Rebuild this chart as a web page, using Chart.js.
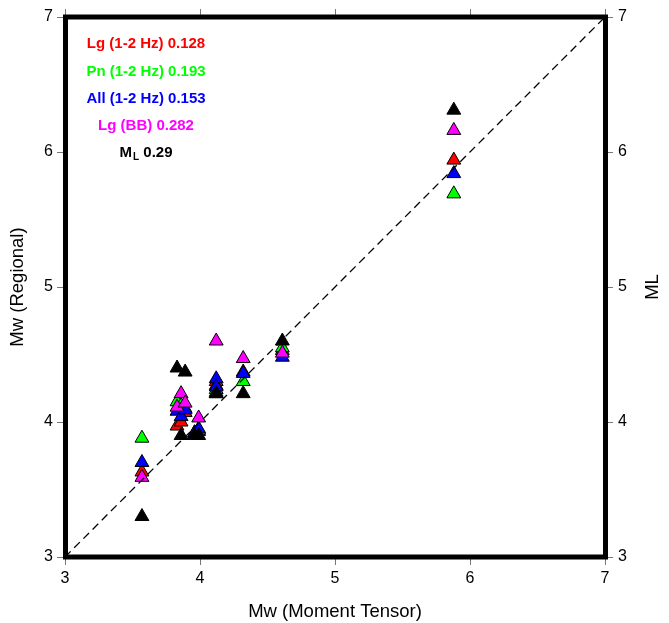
<!DOCTYPE html>
<html><head><meta charset="utf-8">
<script src="https://cdn.jsdelivr.net/npm/chart.js@4/dist/chart.umd.min.js"></script>
<style>html,body{margin:0;padding:0;background:#fff}#wrap{width:669px;height:623px;position:relative}</style>
</head><body><div id="wrap"><canvas id="c"></canvas></div>
<script>
// Moment tensor Mw (x) for each event
const mtMw  = [3.57, 3.83, 3.86, 3.89, 3.96, 3.99, 4.12, 4.12, 4.32, 4.61, 5.88];
// Regional Mw estimates
const lg12  = [3.63, 3.97, 4.00, 4.07, 3.91, 3.93, 4.30, 4.27, 4.37, 4.53, 5.94];
const pn12  = [3.88, 4.15, 4.12, 4.10, 3.92, 3.94, 4.24, 4.22, 4.30, 4.55, 5.69];
const all12 = [3.70, 4.08, 4.04, 4.09, 3.92, 3.95, 4.32, 4.26, 4.36, 4.48, 5.84];
const lgBB  = [3.59, 4.11, 4.21, 4.14, null, 4.03, 4.60, null, 4.47, 4.51, 6.16];
const mlVal = [3.30, 4.40, 3.90, 4.37, 3.90, 3.90, 4.21, 4.21, 4.21, 4.60, 6.31];
const axisTicks = [3, 4, 5, 6, 7];
const oneToOne = [3, 7];
const legendLabels = ['Lg (1-2 Hz) 0.128', 'Pn (1-2 Hz) 0.193', 'All (1-2 Hz) 0.153', 'Lg (BB) 0.282'];
const mlLegend = ['M', 'L', ' 0.29'];
const xTitle = 'Mw (Moment Tensor)';
const yTitle = 'Mw (Regional)';
const y2Title = 'ML';

const FF = '"Liberation Sans", Arial, Helvetica, sans-serif';
const colors = ['#ff0000', '#00ff00', '#0000ff', '#ff00ff', '#000000'];

function pts(ys) { return mtMw.map((x, i) => ys[i] == null ? null : {x: x, y: ys[i]}).filter(Boolean); }
function tri(label, ys, color, order) {
  return {type: 'scatter', label: label, data: pts(ys), pointStyle: 'triangle', pointRadius: 8, pointHoverRadius: 8,
    backgroundColor: color, borderColor: '#000', borderWidth: 1, order: order};
}
const setTicks = s => { s.ticks = axisTicks.map(v => ({value: v})); };
const grid = {drawOnChartArea: false, drawTicks: true, tickLength: 8, color: '#777', lineWidth: 1};
const tickFont = {family: FF, size: 16};

const decor = {
  id: 'decor',
  afterDatasetsDraw(chart) {
    const ctx = chart.ctx, a = chart.chartArea;
    ctx.save();
    // frame
    ctx.strokeStyle = '#000'; ctx.lineWidth = 5; ctx.lineJoin = 'miter';
    ctx.strokeRect(a.left + 0.5, a.top, a.right - a.left, a.bottom - a.top);
    // legend text
    const cx = a.left + 81;
    ctx.textAlign = 'center'; ctx.textBaseline = 'middle';
    ctx.font = 'bold 15px ' + FF;
    legendLabels.forEach((t, i) => { ctx.fillStyle = colors[i]; ctx.fillText(t, cx, a.top + 27.2 + i * 27.2); });
    const yM = a.top + 27.2 + 4 * 27.2;
    ctx.fillStyle = '#000'; ctx.textAlign = 'left';
    const wM = ctx.measureText(mlLegend[0]).width;
    const wR = ctx.measureText(mlLegend[2]).width;
    ctx.font = 'bold 10px ' + FF;
    const wL = ctx.measureText(mlLegend[1]).width;
    const x0 = cx - (wM + wL + 1 + wR) / 2;
    ctx.font = 'bold 15px ' + FF;
    ctx.fillText(mlLegend[0], x0, yM);
    ctx.fillText(mlLegend[2], x0 + wM + wL + 1, yM);
    ctx.font = 'bold 10px ' + FF;
    ctx.fillText(mlLegend[1], x0 + wM + 1, yM + 4);
    // right axis title (reads bottom to top)
    ctx.font = '18.5px ' + FF; ctx.textAlign = 'center';
    ctx.translate(653, (a.top + a.bottom) / 2);
    ctx.rotate(-Math.PI / 2);
    ctx.fillText(y2Title, 0, 0);
    ctx.restore();
  }
};

new Chart(document.getElementById('c'), {
  type: 'scatter',
  data: {
    datasets: [
      {type: 'line', label: '1:1', data: oneToOne.map(v => ({x: v, y: v})), borderColor: '#000', borderWidth: 1.3,
        borderDash: [8, 5], pointRadius: 0, fill: false, showLine: true, order: 0},
      tri('ML', mlVal, colors[4], 1),
      tri('Lg (BB)', lgBB, colors[3], 2),
      tri('All (1-2 Hz)', all12, colors[2], 3),
      tri('Pn (1-2 Hz)', pn12, colors[1], 4),
      tri('Lg (1-2 Hz)', lg12, colors[0], 5)
    ]
  },
  options: {
    responsive: true, maintainAspectRatio: false, animation: false,
    layout: {padding: 0},
    plugins: {legend: {display: false}, tooltip: {enabled: false}},
    events: [],
    scales: {
      x: {type: 'linear', position: 'bottom', min: 3, max: 7, afterBuildTicks: setTicks,
        afterFit: s => { s.height = 66; },
        ticks: {font: tickFont, color: '#000', padding: 4, maxRotation: 0},
        grid: grid, border: {display: false},
        title: {display: true, text: xTitle, color: '#000', font: {family: FF, size: 18.5}, padding: {top: 3, bottom: 0}}},
      x2: {type: 'linear', position: 'top', min: 3, max: 7, afterBuildTicks: setTicks,
        afterFit: s => { s.height = 17; },
        ticks: {display: false}, grid: grid, border: {display: false}},
      y: {type: 'linear', position: 'left', min: 3, max: 7, afterBuildTicks: setTicks,
        afterFit: s => { s.width = 65; },
        ticks: {font: tickFont, color: '#000', padding: 4},
        grid: grid, border: {display: false},
        title: {display: true, text: yTitle, color: '#000', font: {family: FF, size: 18.5}, padding: {top: 7, bottom: 0}}},
      y2: {type: 'linear', position: 'right', min: 3, max: 7, afterBuildTicks: setTicks,
        afterFit: s => { s.width = 64; },
        ticks: {font: tickFont, color: '#000', padding: 5},
        grid: grid, border: {display: false}}
    }
  },
  plugins: [decor]
});
</script>
</body></html>
